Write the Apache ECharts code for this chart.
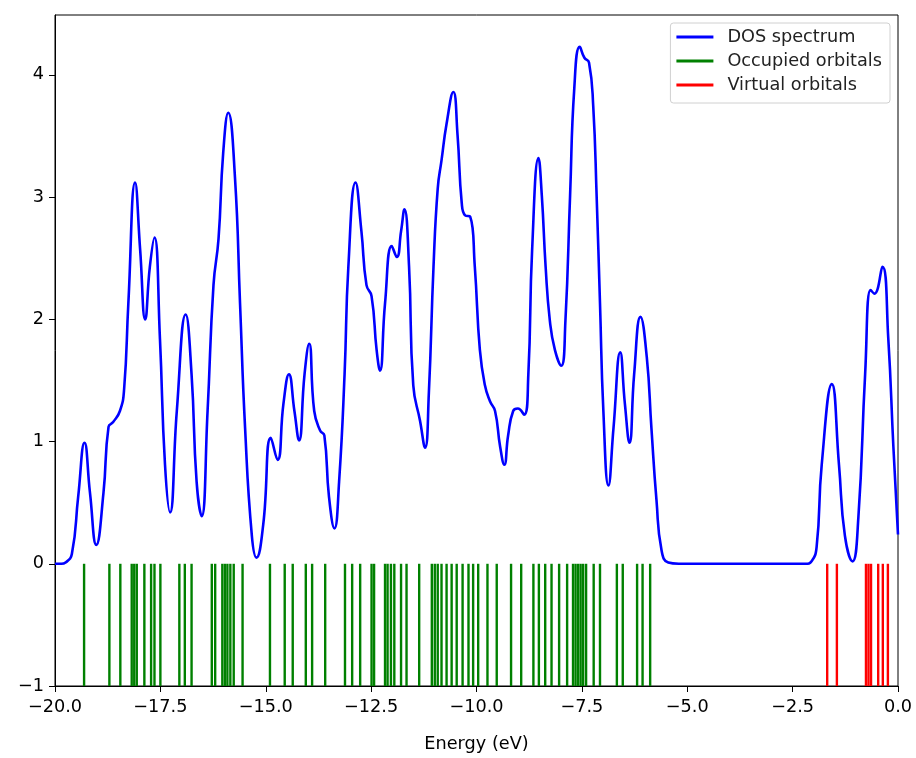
<!DOCTYPE html>
<html>
<head>
<meta charset="utf-8">
<script src="https://cdn.jsdelivr.net/npm/echarts@6/dist/echarts.min.js"></script>
<style>
  html, body { margin: 0; padding: 0; background: #fff; }
  #chart { width: 916px; height: 758px; }
</style>
</head>
<body>
<div id="chart"></div>
<script>
// DOS curve: [energy (eV), dos]
const dosPoints = [
  [-20.0, 0], [-19.85, 0], [-19.75, 0.01], [-19.6, 0.08], [-19.45, 0.55], [-19.3, 0.99],
  [-19.17, 0.58], [-19.02, 0.155], [-18.85, 0.58], [-18.73, 1.12], [-18.62, 1.16],
  [-18.46, 1.25], [-18.36, 1.43], [-18.26, 2.13], [-18.1, 3.12], [-17.98, 2.57],
  [-17.86, 2.0], [-17.75, 2.43], [-17.64, 2.67], [-17.51, 1.84], [-17.39, 0.81],
  [-17.27, 0.42], [-17.11, 1.25], [-16.9, 2.04], [-16.76, 1.55], [-16.64, 0.67],
  [-16.52, 0.39], [-16.38, 1.25], [-16.24, 2.28], [-16.12, 2.66], [-16.01, 3.36],
  [-15.89, 3.69], [-15.73, 3.16], [-15.61, 2.13], [-15.49, 1.11], [-15.33, 0.23],
  [-15.22, 0.05], [-15.06, 0.32], [-14.88, 1.03], [-14.72, 0.85], [-14.58, 1.31],
  [-14.45, 1.55], [-14.32, 1.25], [-14.21, 1.01], [-14.08, 1.55], [-13.97, 1.8],
  [-13.85, 1.25], [-13.71, 1.09], [-13.61, 1.05], [-13.5, 0.55], [-13.37, 0.29],
  [-13.26, 0.67], [-13.13, 1.55], [-13.04, 2.43], [-12.87, 3.12], [-12.73, 2.72],
  [-12.61, 2.28], [-12.49, 2.19], [-12.37, 1.75], [-12.29, 1.58], [-12.17, 2.13],
  [-12.01, 2.6], [-11.89, 2.51], [-11.79, 2.72], [-11.71, 2.9], [-11.6, 2.43],
  [-11.5, 1.46], [-11.34, 1.17], [-11.22, 0.95], [-11.13, 1.4], [-11.02, 2.43],
  [-10.92, 3.07], [-10.83, 3.3], [-10.71, 3.6], [-10.55, 3.86], [-10.45, 3.51],
  [-10.35, 2.95], [-10.27, 2.85], [-10.15, 2.84], [-10.04, 2.43], [-9.92, 1.75],
  [-9.8, 1.46], [-9.68, 1.33], [-9.56, 1.25], [-9.44, 0.96], [-9.34, 0.81],
  [-9.25, 1.05], [-9.13, 1.25], [-9.02, 1.27], [-8.87, 1.22], [-8.77, 1.55],
  [-8.68, 2.57], [-8.53, 3.32], [-8.45, 3.01], [-8.36, 2.43], [-8.26, 1.99],
  [-8.14, 1.75], [-7.99, 1.62], [-7.89, 1.99], [-7.78, 3.01], [-7.68, 3.89],
  [-7.55, 4.23], [-7.44, 4.14], [-7.33, 4.1], [-7.23, 3.74], [-7.15, 3.01],
  [-7.07, 2.13], [-6.99, 1.25], [-6.87, 0.64], [-6.75, 1.11], [-6.59, 1.73],
  [-6.48, 1.31], [-6.37, 0.99], [-6.26, 1.55], [-6.11, 2.02], [-5.96, 1.69],
  [-5.85, 1.11], [-5.73, 0.52], [-5.61, 0.11], [-5.45, 0.01], [-5.2, 0],
  [-3.5, 0], [-2.2, 0], [-2.05, 0.02], [-1.93, 0.14], [-1.81, 0.81], [-1.57, 1.47],
  [-1.4, 0.81], [-1.26, 0.23], [-1.08, 0.02], [-0.94, 0.38], [-0.78, 1.55],
  [-0.65, 2.24], [-0.56, 2.21], [-0.37, 2.43], [-0.23, 1.84], [-0.11, 0.96],
  [0.0, 0.24]
];

// orbital energies (eV)
const occupied = [
  -19.31, -18.71, -18.45, -18.18, -18.12, -18.06, -17.88, -17.72, -17.64, -17.50,
  -17.05, -16.92, -16.76, -16.28, -16.20, -16.03, -15.97, -15.91, -15.84, -15.76,
  -15.55, -14.90, -14.55, -14.36, -14.05, -13.90, -13.59, -13.12, -12.95, -12.76,
  -12.49, -12.43, -12.17, -12.11, -12.03, -11.95, -11.79, -11.66, -11.36, -11.06,
  -10.99, -10.92, -10.83, -10.71, -10.59, -10.47, -10.33, -10.19, -10.08, -9.96,
  -9.74, -9.52, -9.18, -8.94, -8.65, -8.52, -8.37, -8.22, -8.04, -7.85,
  -7.71, -7.65, -7.59, -7.53, -7.47, -7.40, -7.22, -7.07, -6.67, -6.53,
  -6.19, -6.06, -5.88
];
const virtual = [-1.68, -1.45, -0.76, -0.70, -0.64, -0.47, -0.36, -0.24];

const xTicks = { min: -20, max: 0, step: 2.5 };
const yTicks = { min: -1, max: 4.49, step: 1 };

const minus = v => (v < 0 ? '\u2212' : '') + Math.abs(v);
const font = 'DejaVu Sans';
const fs = 17.7;

// vertical stick from -1 up to 0 at each orbital energy
function stick(params, api) {
  const a = api.coord([api.value(0), 0]);
  const b = api.coord([api.value(0), -1]);
  return {
    type: 'line',
    shape: { x1: a[0], y1: a[1], x2: b[0], y2: b[1] },
    style: { stroke: api.visual('color'), lineWidth: 2.4 }
  };
}

const myChart = echarts.init(document.getElementById('chart'));
const option = {
  animation: false,
  backgroundColor: '#fff',
  grid: { left: 55, right: 18, top: 15, bottom: 68, show: true, borderColor: '#000', borderWidth: 1 },
  legend: {
    orient: 'vertical',
    right: 26,
    top: 23,
    padding: [4, 8, 8, 6],
    itemGap: 4,
    itemWidth: 37,
    itemHeight: 3,
    borderColor: '#d0d0d0',
    borderWidth: 1,
    borderRadius: 3,
    backgroundColor: 'rgba(255,255,255,0.8)',
    textStyle: { fontFamily: font, fontSize: fs, lineHeight: 20, color: '#222', padding: [0, 0, 0, 9] },
    data: [
      { name: 'DOS spectrum', icon: 'rect' },
      { name: 'Occupied orbitals', icon: 'rect' },
      { name: 'Virtual orbitals', icon: 'rect' }
    ]
  },
  xAxis: {
    type: 'value',
    min: xTicks.min,
    max: xTicks.max,
    interval: xTicks.step,
    name: 'Energy (eV)',
    nameLocation: 'middle',
    nameGap: 49,
    nameTextStyle: { fontFamily: font, fontSize: fs, color: '#000' },
    splitLine: { show: false },
    axisLine: { onZero: false, lineStyle: { color: '#000', width: 1 } },
    axisTick: { length: 6, lineStyle: { color: '#000' } },
    axisLabel: {
      margin: 12,
      fontFamily: font,
      fontSize: fs,
      color: '#000',
      formatter: v => (v < 0 ? '\u2212' : '') + Math.abs(v).toFixed(1)
    }
  },
  yAxis: {
    type: 'value',
    min: yTicks.min,
    max: yTicks.max,
    interval: yTicks.step,
    splitLine: { show: false },
    axisLine: { show: true, onZero: false, lineStyle: { color: '#000', width: 1 } },
    axisTick: { show: true, length: 6, lineStyle: { color: '#000' } },
    axisLabel: {
      margin: 11,
      fontFamily: font,
      fontSize: fs,
      color: '#000',
      showMaxLabel: false,
      formatter: minus
    }
  },
  series: [
    {
      name: 'DOS spectrum',
      type: 'line',
      data: dosPoints,
      smooth: 0.5,
      symbol: 'none',
      color: '#0000ff',
      lineStyle: { color: '#0000ff', width: 2.6 },
      z: 3
    },
    {
      name: 'Occupied orbitals',
      type: 'custom',
      renderItem: stick,
      data: occupied.map(e => [e]),
      encode: { x: 0 },
      color: '#008000',
      itemStyle: { color: '#008000' },
      z: 2
    },
    {
      name: 'Virtual orbitals',
      type: 'custom',
      renderItem: stick,
      data: virtual.map(e => [e]),
      encode: { x: 0 },
      color: '#ff0000',
      itemStyle: { color: '#ff0000' },
      z: 2
    }
  ]
};
myChart.setOption(option);
window.addEventListener('resize', () => myChart.resize());
</script>
</body>
</html>
